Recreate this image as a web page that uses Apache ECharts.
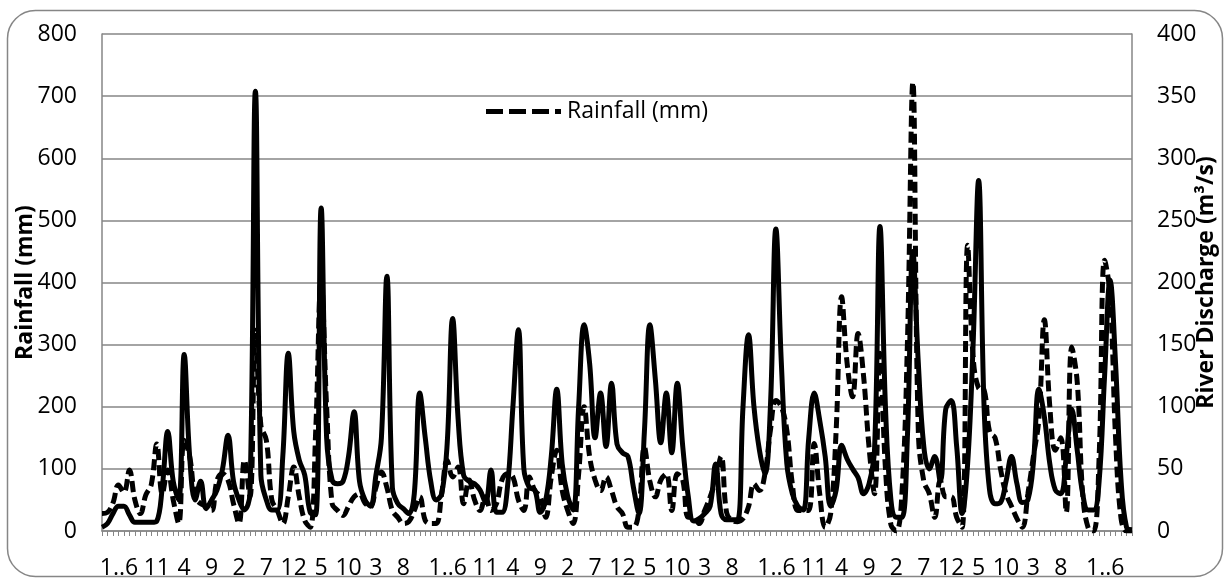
<!DOCTYPE html>
<html>
<head>
<meta charset="utf-8">
<title>Rainfall and river discharge</title>
<script src="https://cdn.jsdelivr.net/npm/echarts@6.0.0/dist/echarts.min.js"></script>
<style>
  html, body { margin: 0; padding: 0; background: #fff; }
  #chart { width: 1226px; height: 580px; }
</style>
</head>
<body>
<div id="chart"></div>
<script>
// monthly records, January of the first year to September of the sixteenth
const months = []
for (let i = 0; i < 189; i++) months.push(String(i % 12 + 1))

// rainfall, mm (left axis)
const rainfall = [
  28, 30, 45, 74, 62, 98, 50, 28, 58, 75,
  140, 60, 98, 50, 12, 146, 120, 55, 44, 40,
  33, 82, 92, 82, 44, 12, 114, 55, 323, 170,
  146, 50, 33, 12, 55, 103, 55, 17, 6, 160,
  404, 200, 44, 33, 25, 40, 55, 60, 45, 39,
  70, 95, 70, 33, 22, 12, 15, 33, 55, 17,
  12, 12, 60, 114, 87, 103, 44, 82, 50, 33,
  55, 33, 44, 82, 92, 87, 50, 33, 87, 65,
  55, 22, 87, 130, 65, 33, 12, 92, 200, 120,
  82, 65, 87, 65, 39, 28, 6, 6, 33, 135,
  80, 55, 82, 92, 33, 92, 82, 22, 22, 12,
  33, 55, 82, 120, 30, 17, 15, 20, 39, 76,
  65, 92, 162, 210, 200, 162, 76, 33, 33, 33,
  141, 60, 6, 28, 162, 377, 270, 216, 318, 250,
  135, 60, 286, 100, 10, 0, 60, 300, 722, 160,
  80, 60, 22, 82, 55, 55, 22, 6, 460, 280,
  230, 227, 160, 150, 100, 60, 40, 20, 6, 60,
  120, 180, 340, 200, 130, 150, 30, 296, 240, 60,
  5, 0, 120, 436, 380, 150, 20, 0, 0
]

// river discharge, m3/s (right axis)
const discharge = [
  3, 6, 14, 20, 20, 13, 7, 7, 7, 7,
  8, 35, 80, 40, 25, 142, 60, 25, 40, 18,
  25, 33, 50, 77, 40, 25, 17, 30, 354, 45,
  25, 17, 17, 60, 143, 80, 57, 45, 15, 13,
  260, 75, 41, 38, 40, 60, 96, 40, 25, 20,
  45, 75, 205, 35, 22, 18, 14, 30, 111, 75,
  40, 25, 30, 70, 171, 90, 45, 40, 38, 33,
  23, 49, 15, 15, 35, 100, 162, 50, 35, 33,
  15, 25, 60, 114, 54, 28, 17, 100, 166, 135,
  75, 111, 68, 119, 70, 63, 60, 35, 14, 80,
  166, 122, 71, 111, 63, 119, 68, 28, 8, 10,
  14, 20, 54, 14, 9, 9, 9, 100, 158, 100,
  65, 46, 100, 243, 135, 54, 30, 20, 17, 75,
  111, 89, 60, 20, 33, 69, 58, 50, 43, 30,
  38, 65, 245, 100, 25, 11, 11, 75, 225, 135,
  68, 50, 60, 40, 98, 105, 68, 14, 54, 150,
  282, 100, 33, 22, 23, 40, 60, 38, 23, 25,
  55, 114, 92, 54, 33, 30, 60, 98, 65, 30,
  17, 17, 40, 125, 202, 135, 41, 3, 1
]

const font = 'Open Sans'
const grey = '#868686'

const chart = echarts.init(document.getElementById('chart'))
chart.setOption({
  animation: false,
  backgroundColor: '#fff',
  graphic: [{
    type: 'rect',
    silent: true,
    shape: { x: 7.5, y: 10.5, width: 1215, height: 566, r: 28 },
    style: { fill: 'none', stroke: grey, lineWidth: 1.5 }
  }],
  legend: {
    data: [{
      name: 'Rainfall (mm)',
      // three dashes and a dot, like the line sample in the original key
      icon: 'path://M0,0h17v5h-17z M23,0h17v5h-17z M46,0h17v5h-17z M69,0h6v5h-6z'
    }],
    left: 481,
    top: 95,
    itemWidth: 77,
    itemHeight: 5,
    itemStyle: { color: '#000' },
    textStyle: { fontFamily: font, fontSize: 23, color: '#000' }
  },
  grid: { left: 102, right: 94, top: 34, bottom: 49, outerBoundsMode: 'none' },
  xAxis: {
    type: 'category',
    data: months,
    boundaryGap: false,
    axisLine: { lineStyle: { color: grey, width: 1.5 } },
    axisTick: { show: true, interval: 0, length: 5, lineStyle: { color: grey, width: 1 } },
    axisLabel: {
      interval: 4,
      margin: 26,
      fontFamily: font,
      fontSize: 23,
      color: '#000',
      formatter: (v) => {
        // january is written "1..6" and takes the june slot too
        if (v === '1') return '{j|1..6}'
        if (v === '6') return ''
        return v
      },
      rich: {
        j: { fontFamily: font, fontSize: 23, color: '#000', padding: [0, 0, 0, 34] }
      }
    },
    splitLine: { show: false }
  },
  yAxis: [{
    type: 'value',
    min: 0,
    max: 800,
    interval: 100,
    position: 'left',
    name: 'Rainfall (mm)',
    nameLocation: 'middle',
    nameGap: 65,
    nameRotate: 90,
    nameMoveOverlap: false,
    nameTextStyle: { fontFamily: font, fontSize: 23, fontWeight: 'bold', color: '#000' },
    axisLine: { show: true, lineStyle: { color: grey, width: 1.5 } },
    axisTick: { show: false },
    axisLabel: { fontFamily: font, fontSize: 23, color: '#000', margin: 25 },
    splitLine: { lineStyle: { color: grey, width: 1.5 } }
  }, {
    type: 'value',
    min: 0,
    max: 400,
    interval: 50,
    position: 'right',
    name: 'River Discharge (m³/s)',
    nameLocation: 'middle',
    nameGap: 63,
    nameRotate: 90,
    nameMoveOverlap: false,
    nameTextStyle: { fontFamily: font, fontSize: 23, fontWeight: 'bold', color: '#000' },
    axisLine: { show: true, lineStyle: { color: grey, width: 1.5 } },
    axisTick: { show: false },
    axisLabel: { fontFamily: font, fontSize: 23, color: '#000', margin: 25 },
    splitLine: { show: false }
  }],
  series: [{
    name: 'River Discharge',
    type: 'line',
    yAxisIndex: 1,
    data: discharge,
    smooth: 0.4,
    symbol: 'none',
    lineStyle: { color: '#000', width: 5 },
    itemStyle: { color: '#000' }
  }, {
    name: 'Rainfall (mm)',
    type: 'line',
    yAxisIndex: 0,
    data: rainfall,
    smooth: 0.4,
    symbol: 'none',
    lineStyle: { color: '#000', width: 5, type: [11, 5] },
    itemStyle: { color: '#000' }
  }]
})
</script>
</body>
</html>
